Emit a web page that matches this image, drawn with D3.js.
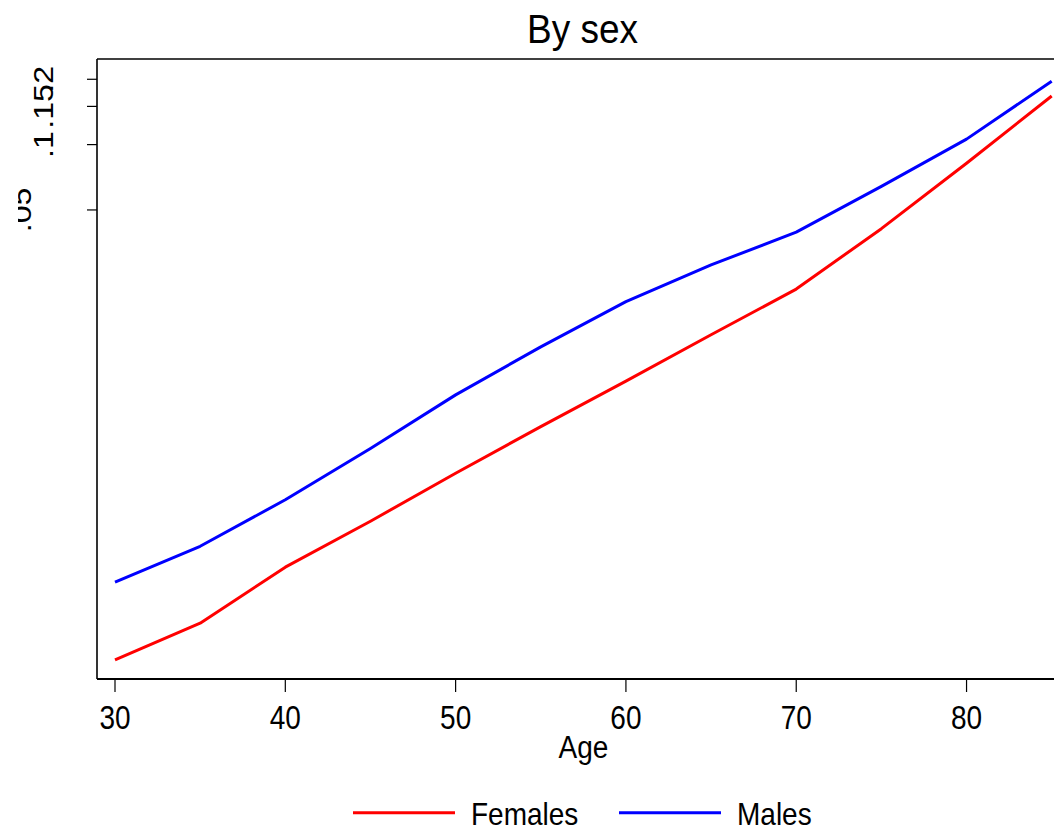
<!DOCTYPE html>
<html>
<head>
<meta charset="utf-8">
<script src="https://cdn.jsdelivr.net/npm/d3@7"></script>
<style>
  html, body { margin: 0; padding: 0; background: #fff; }
  svg { display: block; }
  text { font-family: "Liberation Sans", Arial, sans-serif; fill: #000; }
</style>
</head>
<body>
<svg id="chart" width="1054" height="830"></svg>
<script>
// ---- data ----
const ages = [30, 35, 40, 45, 50, 55, 60, 65, 70, 75, 80, 85];
const females = [0.000423, 0.000624, 0.00113, 0.00184, 0.00306, 0.00502, 0.00813, 0.0133, 0.0216, 0.0410, 0.0821, 0.1675];
const males   = [0.000963, 0.00141, 0.00231, 0.00398, 0.00703, 0.0117, 0.0189, 0.0279, 0.0395, 0.0642, 0.106, 0.196];
const seriesNames = ["Females", "Males"];
const seriesColors = ["#ff0000", "#0000ff"];
const xTicks = [30, 40, 50, 60, 70, 80];
const yTicks = [0.05, 0.1, 0.15, 0.2];
const yTickLabels = [".05", ".1", ".15", ".2"];
const titleText = "By sex";
const xTitle = "Age";

const svg = d3.select("#chart");
const pLeft = 97, pTop = 59, pBottom = 679, pRight = 1070;

const x = d3.scaleLinear().domain([30, 85]).range([115, 1051.7]);
const y = d3.scaleLog().domain([0.000345, 0.248]).range([pBottom, pTop]);

function stretchedText(g, tx, ty, str, size, sy, anchor) {
  return g.append("text")
    .attr("transform", `translate(${tx},${ty}) scale(1,${sy})`)
    .attr("text-anchor", anchor || "middle")
    .attr("font-size", size)
    .text(str);
}

// frame
svg.append("line").attr("x1", pLeft).attr("x2", pRight).attr("y1", pTop).attr("y2", pTop)
  .attr("stroke", "#000").attr("stroke-width", 1.5);

// series lines
const line = d3.line().x((d, i) => x(ages[i])).y(d => y(d));
[females, males].forEach((s, k) => {
  svg.append("path").datum(s).attr("d", line)
    .attr("fill", "none").attr("stroke", seriesColors[k]).attr("stroke-width", 3)
    .attr("stroke-linejoin", "round");
});

// x axis
const xAxis = svg.append("g").attr("transform", `translate(0,${pBottom})`);
xAxis.append("line").attr("x1", pLeft).attr("x2", pRight).attr("y1", 0).attr("y2", 0)
  .attr("stroke", "#000").attr("stroke-width", 2.2);
xTicks.forEach(t => {
  xAxis.append("line").attr("x1", x(t)).attr("x2", x(t)).attr("y1", 0).attr("y2", 13)
    .attr("stroke", "#000").attr("stroke-width", 1.2);
  stretchedText(xAxis, x(t), 50, String(t), 28, 1.17);
});

// y axis
const yAxis = svg.append("g");
yAxis.append("line").attr("x1", pLeft).attr("x2", pLeft).attr("y1", pTop).attr("y2", pBottom)
  .attr("stroke", "#000").attr("stroke-width", 1.6);
svg.append("defs").append("clipPath").attr("id", "clipLeft")
  .append("rect").attr("x", 18).attr("y", 0).attr("width", 1054).attr("height", 830);
yTicks.forEach((t, i) => {
  yAxis.append("line").attr("x1", pLeft - 10).attr("x2", pLeft).attr("y1", y(t)).attr("y2", y(t))
    .attr("stroke", "#000").attr("stroke-width", 1.2);
  const bx = i === 0 ? 31 : 53;
  const g = yAxis.append("g");
  if (i === 0) g.attr("clip-path", "url(#clipLeft)");
  g.append("text")
    .attr("transform", `translate(${bx},${y(t)}) scale(1,1.15) rotate(-90)`)
    .attr("text-anchor", "middle")
    .attr("font-size", 28)
    .text(yTickLabels[i]);
});

// titles
stretchedText(svg, 582.5, 43, titleText, 37, 1.1);
stretchedText(svg, 583.5, 758, xTitle, 28, 1.1);

// legend
const legX = [353, 619];
const legTextX = [471, 737];
seriesNames.forEach((n, k) => {
  svg.append("line").attr("x1", legX[k]).attr("x2", legX[k] + 102)
    .attr("y1", 812.7).attr("y2", 812.7)
    .attr("stroke", seriesColors[k]).attr("stroke-width", 3);
  stretchedText(svg, legTextX[k], 825, n, 28, 1.11, "start");
});
</script>
</body>
</html>
